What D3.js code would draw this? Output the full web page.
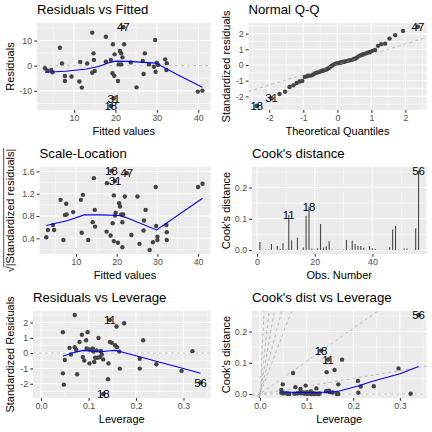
<!DOCTYPE html>
<html><head><meta charset="utf-8">
<script src="https://cdn.jsdelivr.net/npm/d3@7"></script>
<style>
body{margin:0;background:#fff}
svg{display:block}
</style></head><body>
<svg id="c" width="432" height="432"></svg>
<script>
// ---------- Panel 1: Residuals vs Fitted ----------
const rfFitted = [3.0,3.6,4.5,4.8,6.6,7.1,7.8,7.8,9.4,11.3,11.5,11.9,13.2,14.4,14.7,14.8,14.4,15.0,17.7,17.7,18.9,19.3,19.7,19.4,19.8,20.6,20.8,21.1,21.4,21.7,21.4,22.1,23.7,25.1,26.6,26.8,27.1,28.1,29.6,29.3,29.7,30.0,30.3,32.0,32.4,32.3,39.9,41.0,21.9,19.6,18.9];
const rfResid  = [-1.0,-2.0,-1.7,-2.6,7.1,0.9,-4.1,-6.1,-4.3,-6.3,1.5,-8.7,0.9,13.1,4.9,2.3,-2.8,-2.1,11.5,1.6,2.3,-3.0,-4.0,8.5,4.5,-6.1,0.5,5.8,4.9,3.3,0.5,8.5,1.3,-8.6,1.9,-3.3,4.9,0.5,10.2,-0.4,-2.4,1.2,0.3,2.5,1.0,-1.7,-10.3,-9.9,15.3,-13.0,-16.0];
const rfLabelIdx = [48,49,50];
const rfLabelText = ["47","31","18"];
const rfSmoothX = [3.0,8,13,16,18,20,23,26,29.7,35,41];
const rfSmoothY = [-2.6,-2.2,-1.3,-0.3,1.0,1.8,1.7,1.4,1.0,-3.6,-8.6];

// ---------- Panel 2: Normal Q-Q ----------
const qqTheo = [-2.368,-1.931,-1.699,-1.534,-1.403,-1.291,-1.195,-1.108,-1.029,-0.956,-0.887,-0.823,-0.761,-0.703,-0.647,-0.592,-0.540,-0.489,-0.439,-0.390,-0.342,-0.295,-0.248,-0.202,-0.157,-0.112,-0.067,-0.022,0.022,0.067,0.112,0.157,0.202,0.248,0.295,0.342,0.390,0.439,0.489,0.540,0.592,0.647,0.703,0.761,0.823,0.887,0.956,1.029,1.108,1.195,1.291,1.403,1.534,1.699,1.931,2.368];
const qqSample = [-2.61,-2.12,-1.85,-1.70,-1.40,-1.30,-1.15,-1.05,-1.02,-0.76,-0.72,-0.68,-0.66,-0.60,-0.52,-0.48,-0.45,-0.40,-0.37,-0.34,-0.30,-0.26,-0.20,-0.12,-0.05,0.02,0.07,0.10,0.12,0.14,0.16,0.19,0.21,0.23,0.26,0.29,0.31,0.34,0.38,0.42,0.50,0.58,0.64,0.68,0.72,0.78,0.83,0.90,0.95,1.22,1.33,1.36,1.68,1.90,2.17,2.44];
const qqLabelIdx = [0,1,55];
const qqLabelText = ["18","31","47"];
const qqLineIntercept = 0.03, qqLineSlope = 0.655;

// ---------- Panel 3: Scale-Location ----------
const slFitted = [2.7,3.1,4.35,4.6,6.2,6.9,7.3,7.6,7.7,9.3,11.2,11.4,11.7,13.0,14.1,14.4,14.6,14.7,17.5,17.6,18.5,19.0,19.3,19.3,19.6,19.75,20.3,20.6,20.8,21.1,21.6,21.4,21.4,22.0,23.6,25.1,25.6,26.6,26.7,27.1,28.1,28.9,29.6,29.7,30.0,30.0,32.2,32.3,32.3,40.0,41.1,18.7,22.5,19.6];
const slValue  = [0.42,0.55,0.64,0.55,1.09,0.37,0.82,1.02,0.83,0.87,1.09,0.50,1.18,0.37,0.69,1.48,0.91,0.61,0.52,1.39,0.45,0.67,1.17,0.35,0.81,0.86,0.32,1.03,0.97,0.83,0.83,0.69,0.24,1.15,0.46,1.15,0.30,0.54,0.72,0.91,0.19,0.33,1.32,0.62,0.43,0.37,0.64,0.51,0.37,1.32,1.38,1.61,1.57,1.43];
const slLabelIdx = [51,52,53];
const slLabelText = ["18","47","31"];
const slSmoothX = [2.7,8,12,16,20.6,22,29.8,41.1];
const slSmoothY = [0.63,0.72,0.82,0.82,0.81,0.78,0.55,1.12];

// ---------- Panel 4: Cook's distance ----------
const cookObs = d3.range(1,57);
const cookVal = [0.0255,0.001,0.002,0.002,0.019,0.001,0.013,0.004,0.022,0.002,0.112,0.031,0.001,0.040,0.001,0.008,0.110,0.139,0.005,0.002,0.006,0.083,0.008,0.012,0.028,0.002,0.001,0.002,0.001,0.002,0.032,0.001,0.030,0.019,0.014,0.013,0.007,0.001,0.013,0.006,0.003,0.001,0.001,0.001,0.002,0.009,0.066,0.077,0.001,0.001,0.005,0.005,0.001,0.001,0.070,0.253];
const cookLabelObs = [11,18,56];

// ---------- Panel 5: Residuals vs Leverage ----------
const rlLev = [0.046,0.046,0.048,0.050,0.060,0.063,0.071,0.071,0.074,0.076,0.081,0.086,0.088,0.091,0.095,0.098,0.096,0.102,0.102,0.109,0.110,0.112,0.114,0.117,0.121,0.119,0.124,0.126,0.128,0.131,0.142,0.141,0.145,0.149,0.159,0.156,0.160,0.165,0.166,0.175,0.208,0.208,0.215,0.243,0.296,0.319,0.145,0.131,0.336];
const rlStd = [1.37,-1.32,-2.06,-0.45,0.34,-0.09,2.49,0.39,0.22,-1.38,0.73,1.20,-0.26,-0.48,0.84,1.37,0.30,0.24,-0.67,0.30,0.10,-0.58,-0.30,0.18,0.99,-0.30,-0.26,0.14,-0.09,-0.41,-0.67,-1.70,0.73,0.67,1.74,0.52,0.39,0.10,-1.01,1.95,-0.37,-1.01,0.84,-0.73,-1.16,0.13,2.17,-2.67,-1.92];
const rlLabelIdx = [46,47,48];
const rlLabelText = ["11","18","56"];
const rlSmoothX = [0.046,0.07,0.089,0.11,0.124,0.145,0.156,0.17,0.2,0.25,0.3,0.336];
const rlSmoothY = [-0.2,0.05,0.18,0.12,0.08,0.15,0.18,0.08,-0.17,-0.59,-1.01,-1.32];

// ---------- Panel 6: Cook's dist vs Leverage ----------
const clLev  = [0.046,0.049,0.050,0.058,0.071,0.076,0.080,0.087,0.090,0.098,0.100,0.104,0.109,0.116,0.121,0.128,0.131,0.143,0.146,0.143,0.148,0.160,0.168,0.166,0.168,0.176,0.210,0.211,0.216,0.244,0.297,0.323,0.340,0.046,0.060,0.063,0.074,0.081,0.086,0.088,0.091,0.095,0.096,0.102,0.102,0.110,0.112,0.114,0.117,0.119,0.124,0.126,0.142,0.149,0.156,0.165];
const clCook = [0.013,0.031,0.002,0.002,0.067,0.022,0.002,0.016,0.005,0.027,0.005,0.002,0.008,0.002,0.018,0.002,0.139,0.070,0.110,0.010,0.011,0.077,0.031,0.002,0.000,0.110,0.042,0.004,0.024,0.025,0.082,0.001,0.253,0.004,0.001,0.000,0.001,0.003,0.006,0.002,0.004,0.004,0.001,0.001,0.005,0.000,0.004,0.001,0.000,0.001,0.001,0.000,0.009,0.006,0.005,0.000];
const clLabelIdx = [16,18,32];
const clLabelText = ["18","11","56"];
const clSmoothX = [0.046,0.08,0.12,0.15,0.17,0.21,0.24,0.3,0.34];
const clSmoothY = [0.007,0.005,0.005,0.006,0.01,0.026,0.04,0.065,0.088];
const clContourSlopes = [0,0.25,1.05,3.9,5.7,8.6,13.4,29.8];

// ---------- drawing ----------
const FONT = '"Liberation Sans", Arial, Helvetica, sans-serif';
const svg = d3.select('#c').attr('font-family', FONT);
const PT_COL = '#444444', PT_R = 2.2;

function fmtInt(d){ return String(d); }
function fmt1(d){ return d.toFixed(1); }

function makePanel(o){
  const g = svg.append('g');
  const x = d3.scaleLinear().domain(o.xDom).range([o.l, o.r]);
  const y = d3.scaleLinear().domain(o.yDom).range([o.b, o.t]);
  g.append('rect').attr('x',o.l).attr('y',o.t).attr('width',o.r-o.l).attr('height',o.b-o.t).attr('fill','#EBEBEB');
  const inX = v => v>=o.xDom[0] && v<=o.xDom[1];
  const inY = v => v>=o.yDom[0] && v<=o.yDom[1];
  const grid = (vals, vert, w) => vals.filter(vert?inX:inY).forEach(v=>{
    if(vert) g.append('line').attr('x1',x(v)).attr('x2',x(v)).attr('y1',o.t).attr('y2',o.b).attr('stroke','#fff').attr('stroke-width',w);
    else g.append('line').attr('y1',y(v)).attr('y2',y(v)).attr('x1',o.l).attr('x2',o.r).attr('stroke','#fff').attr('stroke-width',w);
  });
  grid(o.xMinor,true,0.53); grid(o.yMinor,false,0.53);
  grid(o.xTicks,true,1.07); grid(o.yTicks,false,1.07);
  const cid = 'clip'+o.id;
  svg.append('clipPath').attr('id',cid).append('rect').attr('x',o.l).attr('y',o.t).attr('width',o.r-o.l).attr('height',o.b-o.t);
  const plot = g.append('g').attr('clip-path',`url(#${cid})`);
  const style = a => {
    a.attr('font-family',FONT).attr('font-size',8.8);
    a.select('.domain').remove();
    a.selectAll('.tick line').attr('stroke','#333333').attr('stroke-width',1.07);
    a.selectAll('.tick text').attr('fill','#4D4D4D');
  };
  g.append('g').attr('transform',`translate(0,${o.b})`)
    .call(d3.axisBottom(x).tickValues(o.xTicks).tickFormat(o.xFmt).tickSize(2.75).tickPadding(2.2)).call(style);
  g.append('g').attr('transform',`translate(${o.l},0)`)
    .call(d3.axisLeft(y).tickValues(o.yTicks).tickFormat(o.yFmt).tickSize(2.75).tickPadding(2.2)).call(style);
  g.append('text').attr('x',o.l).attr('y',o.rowY+14).attr('font-size',13.2).attr('fill','#000').text(o.title);
  g.append('text').attr('x',(o.l+o.r)/2).attr('y',o.rowY+135).attr('text-anchor','middle').attr('font-size',11).attr('fill','#000').text(o.xlab);
  const yt = g.append('g').attr('transform',`translate(${o.colX+14},${(o.t+o.b)/2}) rotate(-90)`);
  const ytext = yt.append('text').attr('x',0).attr('y',0).attr('text-anchor','middle').attr('font-size',11).attr('fill','#000').text(o.ylab);
  if(o.sqrtLab){
    const w = ytext.node().getComputedTextLength();
    const ws = ytext.node().getSubStringLength(0,1);
    yt.append('line').attr('x1',-w/2+ws*0.85).attr('x2',w/2+0.5).attr('y1',-10.3).attr('y2',-10.3).attr('stroke','#000').attr('stroke-width',0.7);
  }
  return {plot,x,y,o};
}

function points(P, xs, ys){
  P.plot.append('g').selectAll('circle').data(xs).join('circle')
    .attr('cx',(d,i)=>P.x(xs[i])).attr('cy',(d,i)=>P.y(ys[i])).attr('r',PT_R).attr('fill',PT_COL);
}
function smooth(P, xs, ys){
  const line = d3.line().x((d,i)=>P.x(xs[i])).y((d,i)=>P.y(ys[i]));
  P.plot.append('path').attr('d',line(xs)).attr('fill','none').attr('stroke','#0000FF').attr('stroke-width',1.07);
}
function dashed(P, slope, intercept){
  const [a,b] = P.x.domain();
  P.plot.append('line').attr('x1',P.x(a)).attr('x2',P.x(b))
    .attr('y1',P.y(intercept+slope*a)).attr('y2',P.y(intercept+slope*b))
    .attr('stroke','#999999').attr('stroke-width',0.6).attr('stroke-dasharray','3,3');
}
function labels(P, xs, ys, idx, txt){
  P.plot.append('g').selectAll('text').data(idx).join('text')
    .attr('x',(d)=>P.x(xs[d])).attr('y',(d)=>P.y(ys[d])).attr('dy','0.36em')
    .attr('text-anchor','middle').attr('font-size',11.4).attr('fill','#000')
    .text((d,i)=>txt[i]);
}

// Panel 1
const P1 = makePanel({id:1,colX:0,rowY:0,l:37,r:210.5,t:23,b:110,xDom:[1.07,42.95],yDom:[-17.6,16.94],
  xTicks:[10,20,30,40],xMinor:[5,15,25,35],yTicks:[-10,0,10],yMinor:[-15,-5,5,15],xFmt:fmtInt,yFmt:fmtInt,
  title:'Residuals vs Fitted',xlab:'Fitted values',ylab:'Residuals'});
dashed(P1,0,0);
points(P1,rfFitted,rfResid);
smooth(P1,rfSmoothX,rfSmoothY);
labels(P1,rfFitted,rfResid,rfLabelIdx,rfLabelText);

// Panel 2
const P2 = makePanel({id:2,colX:216,rowY:0,l:248.5,r:426.5,t:23,b:110,xDom:[-2.61,2.62],yDom:[-2.87,2.675],
  xTicks:[-2,-1,0,1,2],xMinor:[-2.5,-1.5,-0.5,0.5,1.5,2.5],yTicks:[-2,-1,0,1,2],yMinor:[-2.5,-1.5,-0.5,0.5,1.5,2.5],xFmt:fmtInt,yFmt:fmtInt,
  title:'Normal Q-Q',xlab:'Theoretical Quantiles',ylab:'Standardized residuals'});
points(P2,qqTheo,qqSample);
dashed(P2,qqLineSlope,qqLineIntercept);
labels(P2,qqTheo,qqSample,qqLabelIdx,qqLabelText);

// Panel 3
const P3 = makePanel({id:3,colX:0,rowY:144,l:39.5,r:210.5,t:167,b:254,xDom:[1.03,43.05],yDom:[0.118,1.68],
  xTicks:[10,20,30,40],xMinor:[5,15,25,35],yTicks:[0.4,0.8,1.2,1.6],yMinor:[0.2,0.6,1.0,1.4],xFmt:fmtInt,yFmt:fmt1,
  title:'Scale-Location',xlab:'Fitted values',ylab:'\u221A|Standardized residuals|',sqrtLab:true});
points(P3,slFitted,slValue);
smooth(P3,slSmoothX,slSmoothY);
labels(P3,slFitted,slValue,slLabelIdx,slLabelText);

// Panel 4
const P4 = makePanel({id:4,colX:216,rowY:144,l:252,r:426.5,t:167,b:254,xDom:[-1.75,58.75],yDom:[-0.0127,0.2657],
  xTicks:[0,20,40],xMinor:[10,30,50],yTicks:[0,0.1,0.2],yMinor:[0.05,0.15,0.25],xFmt:fmtInt,yFmt:fmt1,
  title:"Cook's distance",xlab:'Obs. Number',ylab:"Cook's distance"});
P4.plot.append('g').selectAll('line').data(cookObs).join('line')
  .attr('x1',(d)=>P4.x(d)).attr('x2',(d)=>P4.x(d)).attr('y1',P4.y(0)).attr('y2',(d,i)=>P4.y(cookVal[i]))
  .attr('stroke','#444444').attr('stroke-width',1.07);
P4.plot.append('g').selectAll('text').data(cookLabelObs).join('text')
  .attr('x',d=>P4.x(d)).attr('y',d=>P4.y(cookVal[d-1])).attr('dy','0.36em')
  .attr('text-anchor','middle').attr('font-size',11.4).attr('fill','#000').text(d=>String(d));

// Panel 5
const P5 = makePanel({id:5,colX:0,rowY:288,l:33,r:210.5,t:311,b:398,xDom:[-0.017,0.357],yDom:[-2.93,2.75],
  xTicks:[0,0.1,0.2,0.3],xMinor:[0.05,0.15,0.25,0.35],yTicks:[-2,-1,0,1,2],yMinor:[-2.5,-1.5,-0.5,0.5,1.5,2.5],xFmt:fmt1,yFmt:fmtInt,
  title:'Residuals vs Leverage',xlab:'Leverage',ylab:'Standardized Residuals'});
dashed(P5,0,0);
points(P5,rlLev,rlStd);
smooth(P5,rlSmoothX,rlSmoothY);
labels(P5,rlLev,rlStd,rlLabelIdx,rlLabelText);

// Panel 6
const P6 = makePanel({id:6,colX:216,rowY:288,l:252,r:426.5,t:311,b:398,xDom:[-0.017,0.357],yDom:[-0.0127,0.2657],
  xTicks:[0,0.1,0.2,0.3],xMinor:[0.05,0.15,0.25,0.35],yTicks:[0,0.1,0.2],yMinor:[0.05,0.15,0.25],xFmt:fmt1,yFmt:fmt1,
  title:"Cook's dist vs Leverage",xlab:'Leverage',ylab:"Cook's distance"});
clContourSlopes.forEach(s=>dashed(P6,s,0));
points(P6,clLev,clCook);
smooth(P6,clSmoothX,clSmoothY);
labels(P6,clLev,clCook,clLabelIdx,clLabelText);
</script>
</body></html>
